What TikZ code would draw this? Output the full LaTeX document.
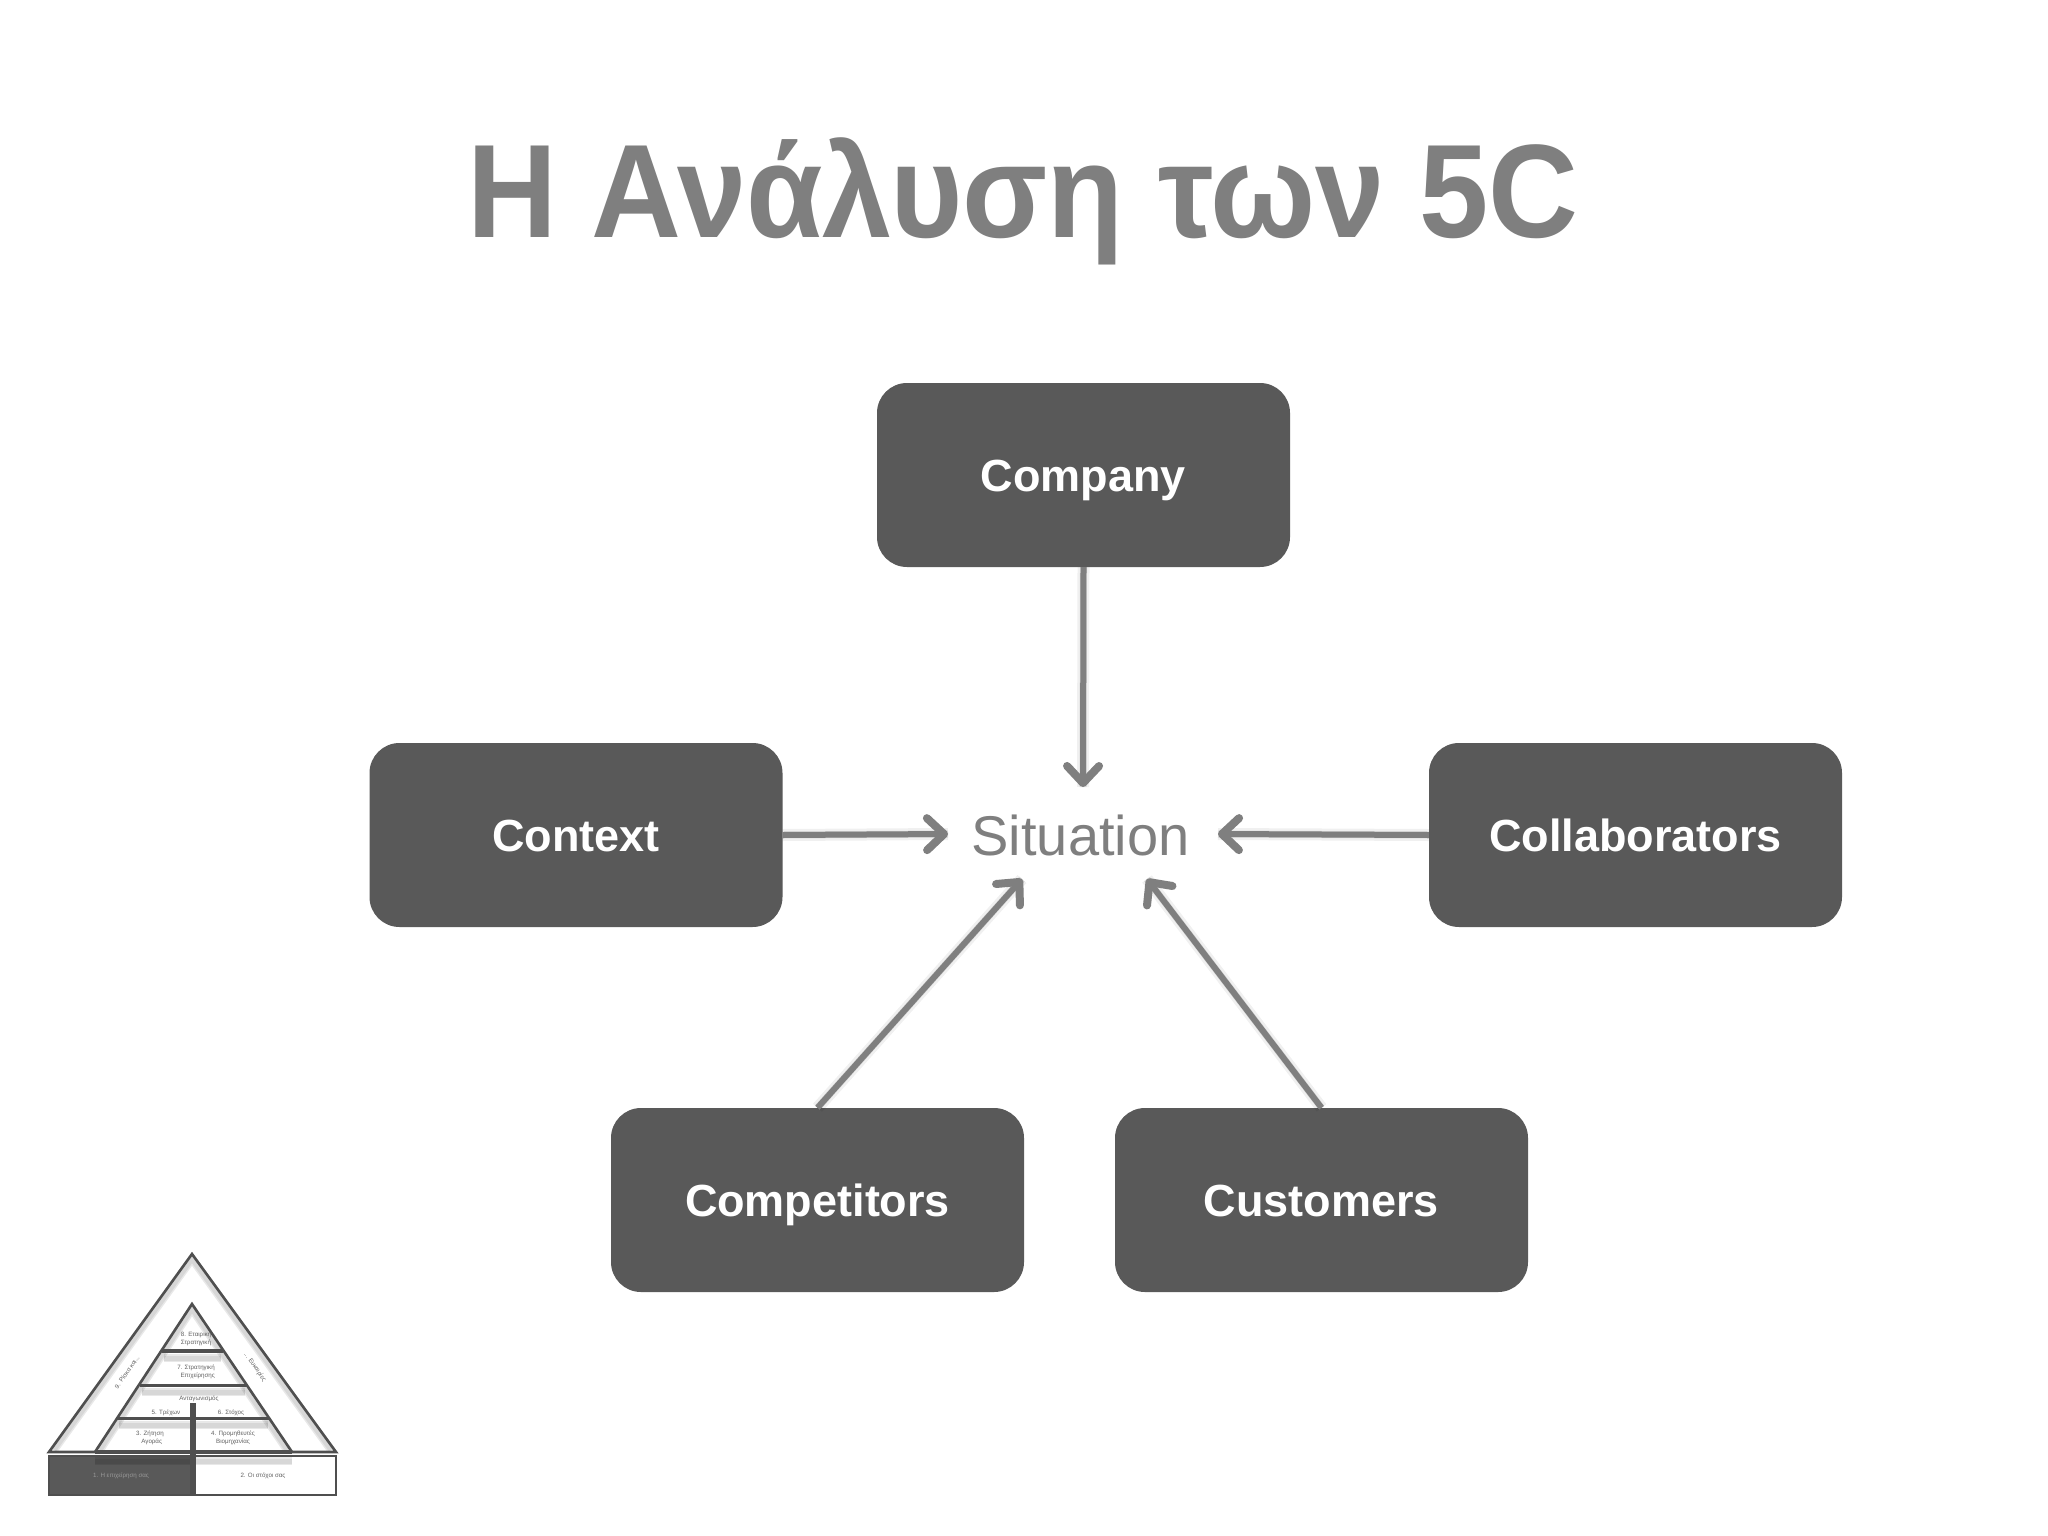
\documentclass[tikz,border=0pt]{standalone}
\usepackage{fontspec}
\setmainfont{Liberation Sans}
\usetikzlibrary{arrows.meta}
\definecolor{boxgray}{HTML}{595959}
\definecolor{textgray}{HTML}{7F7F7F}
\definecolor{pyrline}{HTML}{4F4F4F}
\tikzset{
  x=1pt,y=-1pt,
  cbox/.style={draw=none,fill=boxgray,rounded corners=30pt,minimum width=413pt,minimum height=184pt,inner sep=0pt,text=white,text height=32pt,text depth=0pt,font=\fontsize{45}{54}\selectfont\bfseries},
  link/.style={draw=textgray,line width=6pt,-{Straight Barb[length=17pt,width=32pt,line width=8pt,round]}},
  softa/.style={draw=black,opacity=0.06,line width=12pt,shift={(1pt,-4pt)}},
  softb/.style={draw=black,opacity=0.10,line width=7pt,shift={(1pt,-4pt)}},
  pyr/.style={draw=pyrline,line width=2.6pt,line join=miter},
  pyrsoft/.style={draw=black,opacity=0.09,line width=8pt},
  pyrsofter/.style={draw=black,opacity=0.07,line width=5pt},
  tiny/.style={font=\fontsize{6.2}{8}\selectfont,text=black!62,align=center,inner sep=0pt},
}
\begin{document}
\begin{tikzpicture}
\useasboundingbox (0,0) rectangle (2048,1536);
\fill[white] (0,0) rectangle (2048,1536);
\node[text=textgray,font=\fontsize{133}{150}\selectfont\bfseries,inner sep=0pt,anchor=base,xscale=0.936] (title) at (1023,237) {Η Ανάλυση των 5C};
\node[cbox] (company) at (1083.5,475) {Company};
\node[cbox] (context) at (576,835) {Context};
\node[cbox] (collab) at (1635.5,835) {Collaborators};
\node[cbox] (comp) at (817.5,1200) {Competitors};
\node[cbox] (cust) at (1321.5,1200) {Customers};
\node[text=textgray,font=\fontsize{56}{66}\selectfont,inner sep=0pt,anchor=base] (sit) at (1080.5,855) {Situation};
\coordinate (tipA) at (1083,787);
\coordinate (tipB) at (948,834);
\coordinate (tipC) at (1218,834);
\coordinate (tipD) at (1022,879);
\coordinate (tipE) at (1147,879);
% connector shadows
\foreach \sty in {softa,softb}{
  \draw[\sty] (company.south) -- (tipA);
  \draw[\sty] (context.east) -- (tipB);
  \draw[\sty] (collab.west) -- (tipC);
  \draw[\sty] (comp.north) -- (tipD);
  \draw[\sty] (cust.north) -- (tipE);
}
\draw[link] (company.south) -- (tipA);
\draw[link] (context.east) -- (tipB);
\draw[link] (collab.west) -- (tipC);
\draw[link] (comp.north) -- (tipD);
\draw[link] (cust.north) -- (tipE);
% small pyramid
\fill[boxgray] (49,1456) rectangle (193,1495);
\foreach \sty in {pyrsoft,pyrsofter}{
  \draw[\sty] (95,1461) -- (292,1461);
  \draw[\sty] (142,1392) -- (245,1392);
  \draw[\sty] (119,1425) -- (268,1425);
  \draw[\sty] (164,1358) -- (221,1358);
  \draw[\sty] (54,1450) -- (192,1259) -- (331,1450);
  \draw[\sty] (100,1450) -- (192,1309) -- (287,1450);
}
\draw[pyr] (49,1452) -- (192,1254) -- (336,1452) -- cycle;
\draw[pyr] (95,1452) -- (192,1304) -- (292,1452);
\draw[pyr,line width=3.5pt] (95,1452) -- (292,1452);
\draw[pyr,line width=4pt] (162,1351) -- (223,1351);
\draw[pyr,line width=3pt] (140,1385) -- (247,1385);
\draw[pyr,line width=3pt] (117,1418) -- (270,1418);
\draw[pyr] (193,1456) rectangle (336,1495);
\draw[pyr] (49,1456) rectangle (193,1495);
\draw[pyr,line width=5.5pt] (193,1403) -- (193,1495);
\node[tiny] (t8) at (196,1339) {8. Εταιρική\\Στρατηγική};
\node[tiny] (t7) at (196,1372) {7. Στρατηγική\\\ \ Επιχείρησης};
\node[tiny] (tA) at (199,1399) {Ανταγωνισμός};
\node[tiny] (t5) at (166,1413) {5. Τρέχων};
\node[tiny] (t6) at (231,1413) {6. Στόχος};
\node[tiny] (t3) at (150,1438) {3. Ζήτηση\\\ \ Αγοράς};
\node[tiny] (t4) at (233,1438) {4. Προμηθευτές\\Βιομηχανίας};
\node[tiny,text=black!40] (t1) at (121,1476) {1. Η επιχείρηση σας};
\node[tiny] (t2) at (263,1476) {2. Οι στόχοι σας};
\node[tiny,rotate=55] (t9) at (127,1372) {9. Ρίσκα και...};
\node[tiny,rotate=-55] (t10) at (255,1367) {... Ευκαιρίες};
\end{tikzpicture}
\end{document}
